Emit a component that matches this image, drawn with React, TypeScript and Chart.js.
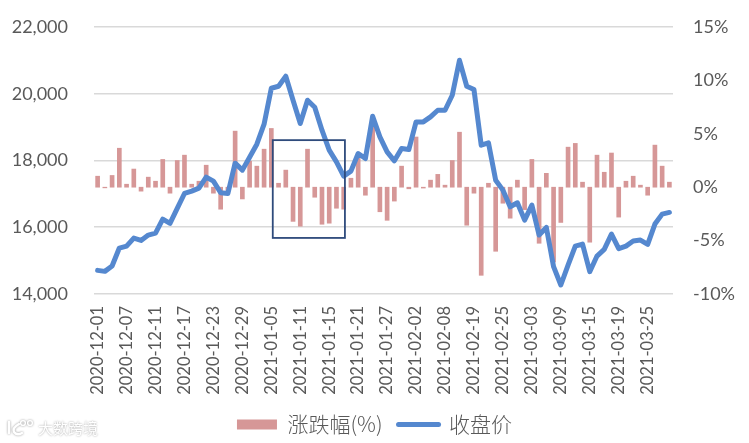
import React, { useEffect, useRef } from "react";
import { Chart, registerables } from "chart.js";

Chart.register(...registerables);

const dates = [
  "2020-12-01","2020-12-02","2020-12-03","2020-12-04","2020-12-07","2020-12-08","2020-12-09","2020-12-10",
  "2020-12-11","2020-12-14","2020-12-15","2020-12-16","2020-12-17","2020-12-18","2020-12-21","2020-12-22",
  "2020-12-23","2020-12-24","2020-12-25","2020-12-28","2020-12-29","2020-12-30","2020-12-31","2021-01-04",
  "2021-01-05","2021-01-06","2021-01-07","2021-01-08","2021-01-11","2021-01-12","2021-01-13","2021-01-14",
  "2021-01-15","2021-01-18","2021-01-19","2021-01-20","2021-01-21","2021-01-22","2021-01-25","2021-01-26",
  "2021-01-27","2021-01-28","2021-01-29","2021-02-01","2021-02-02","2021-02-03","2021-02-04","2021-02-05",
  "2021-02-08","2021-02-09","2021-02-10","2021-02-18","2021-02-19","2021-02-22","2021-02-23","2021-02-24",
  "2021-02-25","2021-02-26","2021-03-01","2021-03-02","2021-03-03","2021-03-04","2021-03-05","2021-03-08",
  "2021-03-09","2021-03-10","2021-03-11","2021-03-12","2021-03-15","2021-03-16","2021-03-17","2021-03-18",
  "2021-03-19","2021-03-22","2021-03-23","2021-03-24","2021-03-25","2021-03-26","2021-03-29","2021-03-30",
];

const changePct = [
  1.03,-0.06,1.1,3.65,0.28,1.7,-0.37,0.94,0.56,2.6,-0.56,2.5,3.0,0.28,0.56,2.06,
  -0.56,-2.06,-0.4,5.25,-1.1,2.44,1.97,3.56,5.5,0.37,1.6,-3.2,-3.65,3.56,-0.94,-3.47,
  -3.37,-1.97,-2.06,0.84,2.9,-0.75,5.9,-2.3,-3.1,-1.3,1.97,-0.15,4.7,-0.08,0.66,1.2,
  0.19,2.5,5.15,-3.56,-0.56,-8.25,0.37,-6.0,-1.5,-2.9,0.66,-2.1,2.6,-5.25,1.3,-7.0,
  -3.3,3.75,4.1,0.47,-5.15,3.0,1.4,3.2,-2.8,0.56,1.03,0.19,-0.75,3.94,1.97,0.47,
];

const closePrice = [
  14708,14678,14838,15377,15436,15676,15606,15766,15825,16244,16115,16564,17012,17082,17172,17501,
  17382,17032,17012,17920,17711,18100,18489,19087,20165,20224,20524,19805,19107,19805,19596,18908,
  18309,17960,17531,17681,18209,18060,19327,18708,18259,17990,18359,18329,19157,19157,19307,19506,
  19506,19955,21002,20224,20125,18459,18529,17411,17112,16613,16733,16215,16663,15766,15995,14818,
  14269,14868,15436,15496,14668,15137,15337,15795,15357,15436,15586,15616,15486,16095,16394,16444,
];

const highlightIndexRange = [24.2, 34.17];
const highlightPriceRange = [15680, 18610];

const highlightBox = {
  id: "highlightBox",
  afterDatasetsDraw(chart: any) {
    const { x, y } = chart.scales;
    const left = x.getPixelForValue(highlightIndexRange[0]);
    const right = x.getPixelForValue(highlightIndexRange[1]);
    const top = y.getPixelForValue(highlightPriceRange[1]);
    const bottom = y.getPixelForValue(highlightPriceRange[0]);
    const ctx = chart.ctx;
    ctx.save();
    ctx.strokeStyle = "#2F4B7C";
    ctx.lineWidth = 1.8;
    ctx.strokeRect(left, top, right - left, bottom - top);
    ctx.restore();
  },
};

export default function App() {
  const ref = useRef<HTMLCanvasElement>(null);
  useEffect(() => {
    const chart = new Chart(ref.current as HTMLCanvasElement, {
      data: {
        labels: dates,
        datasets: [
          {
            type: "line",
            label: "收盘价",
            data: closePrice,
            yAxisID: "y",
            borderColor: "#5588CF",
            backgroundColor: "#5588CF",
            borderWidth: 5,
            pointRadius: 0,
            tension: 0,
            order: 1,
            borderJoinStyle: "round",
            borderCapStyle: "round",
          },
          {
            type: "bar",
            label: "涨跌幅(%)",
            data: changePct,
            yAxisID: "y1",
            backgroundColor: "#D69797",
            barThickness: 4,
            order: 2,
          },
        ],
      } as any,
      options: {
        responsive: false,
        animation: false,
        layout: { padding: { top: 27, bottom: -2, left: 0, right: 0 } },
        plugins: {
          tooltip: { enabled: false },
          legend: {
            position: "bottom",
            labels: {
              usePointStyle: true,
              pointStyleWidth: 40,
              boxHeight: 10,
              padding: 16,
              color: "#595959",
              font: { family: "'Noto Sans CJK SC'", size: 21, weight: "300" },
              generateLabels: () => [
                { text: "涨跌幅(%)", pointStyle: "rect", fillStyle: "#D69797", strokeStyle: "#D69797", lineWidth: 0, fontColor: "#595959", datasetIndex: 1 },
                { text: "收盘价", pointStyle: "line", fillStyle: "#5588CF", strokeStyle: "#5588CF", lineWidth: 5, lineCap: "round", fontColor: "#595959", datasetIndex: 0 },
              ],
            },
          },
        },
        scales: {
          x: {
            type: "category",
            offset: true,
            grid: { display: false },
            border: { display: false },
            afterFit: (s: any) => { s.height = 104; },
            ticks: {
              autoSkip: false,
              callback(this: any, _v: any, i: number) { return i % 4 === 0 ? dates[i] : ""; },
              minRotation: 90,
              maxRotation: 90,
              padding: 4,
              color: "#595959",
              font: { family: "Lato", size: 16.5 },
            },
          },
          y: {
            position: "left",
            min: 14000,
            max: 22000,
            afterFit: (s: any) => { s.width = 94; s.paddingTop = 0; s.paddingBottom = 0; },
            grid: { color: "#D9D9D9", lineWidth: 1.6, drawTicks: false },
            border: { display: false },
            ticks: {
              stepSize: 2000,
              padding: 26,
              color: "#595959",
              font: { family: "Lato", size: 18 },
              callback: (v: any) => Number(v).toLocaleString("en-US"),
            },
          },
          y1: {
            position: "right",
            min: -10,
            max: 15,
            afterFit: (s: any) => { s.width = 76; s.paddingTop = 0; s.paddingBottom = 0; },
            grid: { display: false, drawTicks: false },
            border: { display: false },
            ticks: {
              stepSize: 5,
              padding: 20,
              color: "#595959",
              font: { family: "Lato", size: 18 },
              callback: (v: any) => `${v}%`,
            },
          },
        },
      },
      plugins: [highlightBox],
    } as any);
    return () => chart.destroy();
  }, []);
  return (
    <div style={{ position: "absolute", left: 0, top: 0, width: 749, height: 443, background: "#fff" }}>
      <canvas ref={ref} width={749} height={443} style={{ display: "block" }} />
      <svg width="30" height="20" style={{ position: "absolute", left: 5, top: 418, filter: "drop-shadow(0 0 1px #999)" }}>
        <path d="M4 4 L4 15 M14 6 Q7 10 9 14 Q12 18 17 15" fill="none" stroke="#fff" strokeWidth="2.4" strokeLinecap="round" />
        <circle cx="18" cy="5" r="2.4" fill="none" stroke="#fff" strokeWidth="1.4" />
        <circle cx="25" cy="5" r="2.4" fill="none" stroke="#fff" strokeWidth="1.4" />
      </svg>
      <div
        style={{
          position: "absolute",
          left: 38,
          top: 417,
          fontFamily: "'Noto Sans CJK SC'",
          fontSize: 15,
          color: "#ffffff",
          textShadow: "0 0 2px #999",
        }}
      >
        大数跨境
      </div>
    </div>
  );
}
